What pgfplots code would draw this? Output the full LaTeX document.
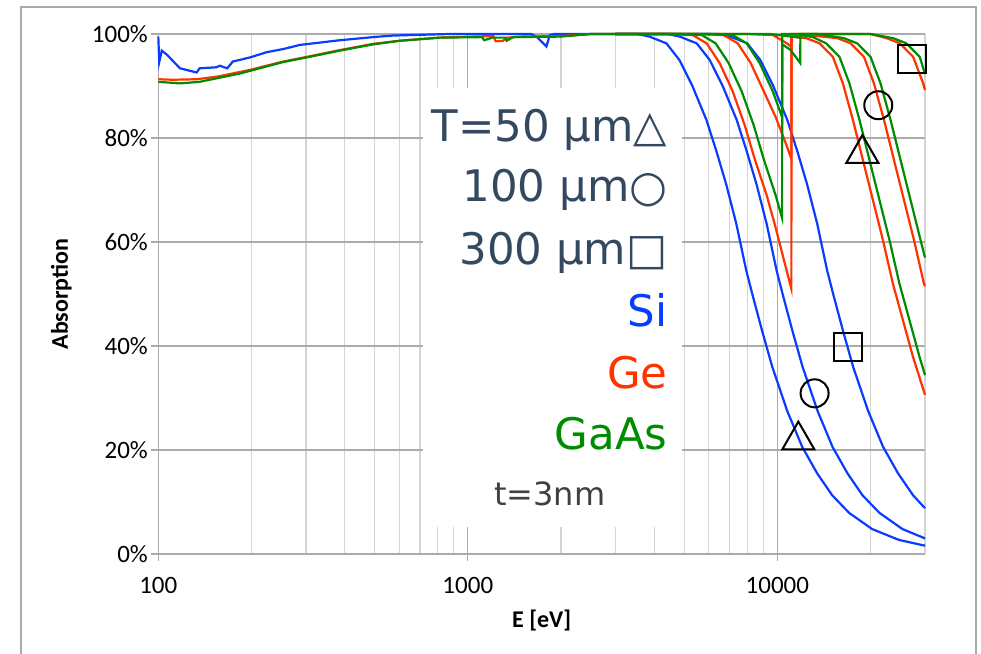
\documentclass[border=0pt]{standalone}
\usepackage{fontspec}
\setmainfont{Carlito}
\newfontfamily\dejavu{DejaVu Sans}
\usepackage{pgfplots}
\pgfplotsset{compat=1.18}

\definecolor{siblue}{HTML}{0A3CFF}
\definecolor{gered}{HTML}{FF3300}
\definecolor{gaasgreen}{HTML}{008C00}
\definecolor{slate}{HTML}{34495F}
\definecolor{framegray}{HTML}{AAAAAA}
\definecolor{gridmajor}{HTML}{ABABAB}
\definecolor{gridminor}{HTML}{D4D4D4}
\definecolor{notegray}{HTML}{404040}

% square with rounded corners for the thickness symbols
\pgfdeclareplotmark{rsquare}{%
  \pgfsetcornersarced{\pgfpoint{0.4\pgfplotmarksize}{0.4\pgfplotmarksize}}%
  \pgfpathmoveto{\pgfpoint{0pt}{-\pgfplotmarksize}}%
  \pgfpathlineto{\pgfpoint{\pgfplotmarksize}{-\pgfplotmarksize}}%
  \pgfpathlineto{\pgfpoint{\pgfplotmarksize}{\pgfplotmarksize}}%
  \pgfpathlineto{\pgfpoint{-\pgfplotmarksize}{\pgfplotmarksize}}%
  \pgfpathlineto{\pgfpoint{-\pgfplotmarksize}{-\pgfplotmarksize}}%
  \pgfpathlineto{\pgfpoint{0pt}{-\pgfplotmarksize}}%
  \pgfpathclose
  \pgfusepathqstroke}

\begin{document}
\begin{tikzpicture}
\useasboundingbox (0,0) rectangle (981bp,654bp);
\fill[white] (0,0) rectangle (981bp,654bp);
\draw[framegray, line width=1.3bp] (21bp,-2bp) -- (21bp,647bp) -- (976bp,647bp) -- (976bp,-2bp);
\begin{axis}[
  at={(158.3bp,100bp)}, anchor=south west,
  width=766.7bp, height=520bp, scale only axis,
  xmode=log, xmin=100, xmax=30000,
  ymin=0, ymax=100, clip=false,
  axis x line*=bottom, axis y line*=left,
  axis line style={gridmajor, line width=1.3bp},
  xtick={100,1000,10000}, xticklabels={100,1000,10000},
  minor xtick={200,300,400,500,600,700,800,900,2000,3000,4000,5000,6000,7000,8000,9000,20000,30000},
  ytick={0,20,40,60,80,100}, yticklabels={0\%,20\%,40\%,60\%,80\%,100\%},
  tick align=outside, major tick length=7bp, minor tick length=0pt,
  tick style={gridmajor, line width=1.3bp},
  xmajorgrids, xminorgrids, ymajorgrids,
  major grid style={gridmajor, line width=1.3bp},
  minor grid style={gridminor, line width=1.3bp},
  ticklabel style={font=\fontsize{25bp}{30bp}\selectfont},
  xticklabel style={yshift=-13bp},
  /pgf/number format/assume math mode=true,
  xlabel={E [eV]}, ylabel={Absorption},
  label style={font=\bfseries\fontsize{24bp}{29bp}\selectfont},
  xlabel style={at={(axis description cs:0.5,-0.127)}, anchor=center},
  ylabel style={at={(axis description cs:-0.1265,0.5)}, anchor=center},
]
% white text box
\fill[white] (axis cs:716,5.2) rectangle (axis cs:4909,89.6);
\node[anchor=base east, inner sep=0, text=slate, font=\dejavu\fontsize{43.5bp}{52bp}\selectfont] at (axis cs:4424,79.3) {T=50 μm△};
\node[anchor=base east, inner sep=0, text=slate, font=\dejavu\fontsize{43.5bp}{52bp}\selectfont] at (axis cs:4424,67.75) {100 μm○};
\node[anchor=base east, inner sep=0, text=slate, font=\dejavu\fontsize{43.5bp}{52bp}\selectfont] at (axis cs:4424,55.6) {300 μm□};
\node[anchor=base east, inner sep=0, text=siblue, font=\dejavu\fontsize{43.5bp}{52bp}\selectfont] at (axis cs:4424,43.7) {Si};
\node[anchor=base east, inner sep=0, text=gered, font=\dejavu\fontsize{43.5bp}{52bp}\selectfont] at (axis cs:4424,31.9) {Ge};
\node[anchor=base east, inner sep=0, text=gaasgreen, font=\dejavu\fontsize{43.5bp}{52bp}\selectfont] at (axis cs:4424,20.0) {GaAs};
\node[anchor=base, inner sep=0, text=notegray, font=\dejavu\fontsize{32bp}{38bp}\selectfont] at (axis cs:1840,9.4) {t=3nm};

% Si
\addplot[siblue, line width=2.2bp] coordinates {(100,99.5)(100.7,94.6)(102.6,96.8)(106.7,96)(117.5,93.4)(133,92.6)(136,93.4)(154,93.6)(158,93.9)(167,93.4)(174,94.7)(198,95.5)(224,96.5)(253,97.1)(287,97.9)(386,98.8)(494,99.4)(573,99.7)(875,100)(1600,100)(1667,99.5)(1795,97.6)(1840,99.8)(1900,100)(3000,100)};
\addplot[siblue, line width=2.2bp] coordinates {(3000,100)(3532,100)(3861,99.5)(4382,98.2)(4826,95.0)(5316,90.0)(5898,83.5)(6353,77.5)(6843,71)(7370,63.5)(7938,54.5)(8300,50)(8940,42.8)(9629,36)(10765,27.5)(12033,20.6)(13452,15.5)(15036,11.3)(17062,7.9)(20238,4.8)(24733,2.7)(30000,1.6)};
\addplot[siblue, line width=2.2bp] coordinates {(3000,100)(4426,100)(4839,99.5)(5490,98.2)(6048,95.0)(6660,90.0)(7390,83.5)(7960,77.5)(8574,71)(9235,63.5)(9947,54.5)(10400,50)(11202,42.8)(12065,36)(13491,27.5)(15077,20.6)(16855,15.5)(18841,11.3)(21379,7.9)(25359,4.8)(30000,3.0)};
\addplot[siblue, line width=2.2bp] coordinates {(3000,100)(6448,100)(7049,99.5)(7998,98.2)(8810,95.0)(9702,90.0)(10765,83.5)(11596,77.5)(12490,71)(13453,63.5)(14489,54.5)(15150,50)(16318,42.8)(17576,36)(19653,27.5)(21963,20.6)(24552,15.5)(27446,11.3)(30000,8.8)};

% Ge
\addplot[gered, line width=2.2bp] coordinates {(100,91.3)(111.5,91.2)(133,91.3)(155,91.8)(198,93.1)(253,94.7)(302,95.6)(386,96.9)(494,98.1)(603,98.7)(812,99.3)(1038,99.5)(1210,99.6)(1230,98.6)(1300,98.7)(1340,99.3)(1500,99.5)(2000,99.6)(2500,100)(3000,100)};
\addplot[gered, line width=2.2bp] coordinates {(3000,100)(4500,100)(5327,99.8)(5912,98.2)(6512,94.4)(7173,89)(7842,82.5)(8447,76)(9236,69)(9801,63.5)(10402,57.5)(11100,51)(11110,99.5)(12406,99.2)(13696,98.2)(15119,95.6)(16286,90.5)(17544,83.5)(18897,75.8)(20356,68.1)(21929,60.4)(23619,52)(25442,45)(27406,38)(30000,30.6)};
\addplot[gered, line width=2.2bp] coordinates {(3000,100)(5500,100)(6712,99.8)(7449,98.2)(8205,94.4)(9038,89)(9881,84)(10643,79)(11100,76)(11110,99.8)(12500,99.8)(15632,99.2)(17257,98.2)(19050,95.6)(20520,90.5)(22105,83.5)(23810,75.8)(25649,68.1)(27631,60.4)(29760,52)(30000,51.5)};
\addplot[gered, line width=2.2bp] coordinates {(3000,100)(8000,100)(9679,99.8)(10742,98.2)(11100,97.5)(11110,100)(20000,100)(22542,99.2)(24886,98.2)(27471,95.6)(29592,90.5)(30000,89.2)};

% GaAs
\addplot[gaasgreen, line width=2.2bp] coordinates {(100,90.8)(117.5,90.5)(136,90.8)(183.5,92.4)(253,94.6)(302,95.5)(386,96.8)(494,98.0)(603,98.7)(812,99.3)(1110,99.4)(1130,98.8)(1200,99.3)(1323,99.3)(1335,98.7)(1400,99.4)(2000,99.5)(2500,100)(3000,100)};
\addplot[gaasgreen, line width=2.2bp] coordinates {(3000,100)(4800,100)(5695,99.8)(6320,98.2)(6961,94.4)(7668,89)(8383,82.5)(9030,76)(9873,69)(10360,64.6)(10370,98)(11000,97)(11500,95.5)(11860,94.4)(11870,99.8)(13026,99.4)(14381,98.2)(15875,95.6)(17100,90.5)(18421,83.5)(19842,75.8)(21374,68.1)(23025,60.4)(24800,52)(26714,45)(28776,38)(30000,34.4)};
\addplot[gaasgreen, line width=2.2bp] coordinates {(3000,100)(6000,100)(7176,99.8)(7963,98.2)(8771,94.4)(9662,89)(10360,84)(10370,99.7)(11860,99.3)(11870,100)(13500,100)(16413,99.2)(18120,98.2)(20003,95.6)(21546,90.5)(23210,83.5)(25001,75.8)(26931,68.1)(29012,60.4)(30000,57)};
\addplot[gaasgreen, line width=2.2bp] coordinates {(3000,100)(9500,100)(10360,99.7)(10370,100)(20000,100)(23668,99.2)(26130,98.2)(28845,95.6)(30000,92.3)};

% thickness symbols
\addplot[only marks, mark=triangle, mark size=18.5bp, mark options={black, line width=2bp}] coordinates {(11690,21.9)(18830,77.0)};
\addplot[only marks, mark=o, mark size=14bp, mark options={black, line width=2bp}] coordinates {(13195,30.9)(21190,86.3)};
\addplot[only marks, mark=rsquare, mark size=14bp, mark options={black, line width=2bp}] coordinates {(16900,39.9)(27290,95.2)};
\end{axis}
\end{tikzpicture}
\end{document}
